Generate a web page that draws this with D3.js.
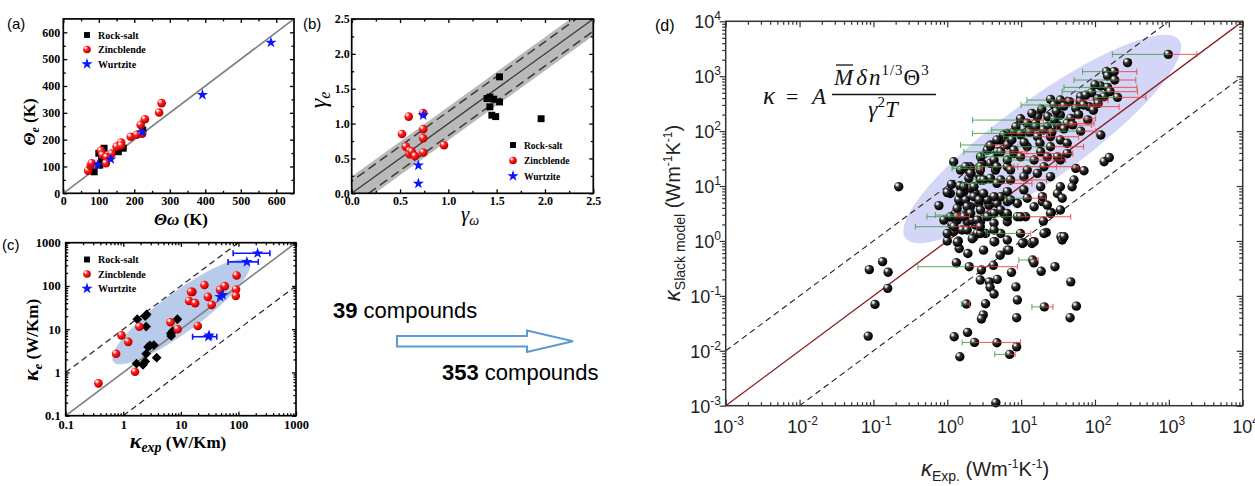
<!DOCTYPE html>
<html><head><meta charset="utf-8">
<script src="https://cdn.jsdelivr.net/npm/d3@7"></script>
<style>body{margin:0;background:#fff}svg{display:block}</style>
</head><body>
<svg id="c" width="1255" height="486"></svg>
<script>
// ---------------- DATA ----------------
// panel (a): Theta_omega vs Theta_e (K)
const aRock = [[87,80],[100,149],[103,105],[108,125],[115,168],[155,155],[169,168],[224,236]];
const aZinc = [[70,84],[77,103],[80,112],[106,159],[110,143],[122,135],[120,112],[136,148],[150,174],[163,189],[163,178],[190,211],[207,218],[218,255],[222,222],[230,276],[270,301],[277,336]];
const aWurtz = [[97,106],[134,127],[222,228],[392,367],[585,562]];
const aTicks = [0,100,200,300,400,500,600];
// panel (b): gamma_omega vs gamma_e
const bRock = [[1.40,1.36],[1.43,1.38],[1.43,1.24],[1.45,1.12],[1.47,1.35],[1.49,1.10],[1.53,1.31],[1.53,1.67],[1.96,1.07]];
const bZinc = [[0.59,1.10],[0.52,0.85],[0.56,0.67],[0.60,0.61],[0.60,0.56],[0.62,0.60],[0.655,0.535],[0.74,1.15],[0.74,0.92],[0.74,0.79],[0.74,0.585],[0.955,0.69]];
const bWurtz = [[0.74,1.12],[0.69,0.40],[0.69,0.14]];
const bTicks = [0,0.5,1.0,1.5,2.0,2.5];
// panel (c): kappa_exp vs kappa_e (W/Km)
const cRock = [[1.75,17],[2.4,20],[2.5,11.5],[2.55,22],[8.7,17],[6.7,8],[6.8,7],[2.7,3.9],[3.4,4.3],[2.5,2.7],[3.8,2.2],[1.7,1.6],[2.2,1.5],[2.4,1.8],[2.9,4.2],[7.2,9]];
const cZinc = [[0.37,0.56],[1.6,1.04],[0.75,2.7],[0.93,7.2],[1.22,5.1],[1.9,11.4],[6.6,14.5],[8.8,10],[19.7,11.9],[13.9,45],[17.7,40],[15.9,73],[15,73],[25.7,105],[29.5,56],[34.3,36.5],[48,81],[58,99],[91,83],[90,59],[93,175]];
const cWurtz = [[215,570],[140,360],[48,56],[53,62],[30,6.7],[31,7.2]];
const cWurtzErr = [[215,570,81,352],[140,360,66,221],[30,6.7,16,42]];
const cTicks = [0.1,1,10,100,1000];
// panel (d): kappa_Exp vs kappa_Slack model (W m^-1 K^-1)
const dPts = [
[0.088,0.30],[0.133,0.42],[0.158,0.27],[0.156,0.137],[0.105,0.070],[0.085,0.0185],[0.22,9.7],
[1.33,0.40],[1.98,0.34],[1.9,0.59],[1.45,0.73],[1.41,1.0],[1.0,1.0],[0.77,4.4],
[2.9,0.295],[4.2,0.36],[2.8,0.194],[3.7,0.18],[4.75,0.20],[3.8,0.143],[4.3,0.108],
[7.4,0.268],[8.5,0.146],[8.9,0.084],[8.7,0.040],[3.3,0.072],[3.07,0.045],[2.9,0.038],
[1.82,0.071],[1.24,0.018],[1.88,0.0216],[2.34,0.0142],[1.48,0.0078],[4.7,0.014],[7.0,0.0086],[8.7,0.0118],[4.55,0.00113],
[14.3,0.45],[14.9,0.40],[18.7,0.28],[28.7,0.34],[20.6,0.063],
[5.2,0.55],[6.5,0.68],[4.4,0.97],[10.7,0.93],[14.5,0.97],[21.9,1.43],[20,2.3],[25.7,3.3],[34.6,1.19],
[47,0.18],[56,0.065],[46,0.040],[3.1,0.68],[6.8,0.68],[10.4,0.9],[14,0.9],[36,1.04],
[1.16,1.95],[1.22,1.47],[1.36,2.4],[1.29,3.18],
[1.51,5.2],[2.06,4.2],[2.68,4.8],[3.66,4.5],[4.7,4.8],[6.5,5.2],[8.9,4.8],[15,4.2],[19.4,5.2],
[1.68,2.96],[1.86,2.24],[2.41,1.95],[2.82,2.24],[3.3,1.37],[4.3,3.18],[5.8,3.18],[6.5,2.24],[8.9,2.76],[11.5,2.76],
[1.59,1.58],[2.29,1.19],[2.68,1.37],[34,3.66],
[1.22,27.7],[1.14,10.7],[1.1,7.3],[1.36,3.9],[1.1,2.76],[1.23,1.82],[0.9,2.4],[1.43,5.6],[1.0,1.37],[1.0,7.6],[1.48,10.1],[2.07,21],[2.68,15.8],[3.66,52],[2.97,25.9],[2.4,7.3],[1.68,7.9],[1.77,5.6],[1.36,2.77],[1.86,1.58],[2.54,1.37],[2.18,2.4],[1.37,0.95],[2.18,1.1],
[1.94,19.5],[2.02,22.5],[2.82,34],[3.48,45],[3.85,56],[5.3,69],[6.5,91],[8.0,98],[9.9,159],[2.82,22.5],[3.85,25.9],[4.5,19.5],[6.5,22.5],[1.96,13.8],[2.82,12.9],[3.85,13.8],[5.3,12.9],[2.07,9.1],[1.51,7.3],[2.29,6.4],[3.48,5.6],[5.3,6.4],[1.86,4.2],[2.82,3.66],[1.68,2.76],[2.55,2.4],[4.3,2.1],[6.5,2.76],[2.82,1.37],[5.3,1.37],[1.51,19.5],[4.75,42],[8.0,39],[6.8,60],[9.9,85],[12.8,105],[15.7,138],[16.6,196],
[982,2500],[276,1770],[182,1210],[143,1210],[148,1010],[185,853],[120,664],[148,627],[160,523],[202,412],[133,424],[108,390],[83,279],[64,424],[63,344],[45,344],[34,368],[25,379],[28,299],[38,286],[9.8,168],[16.6,183],[23,183],[34,196],[47,171],[15.7,120],[22.6,120],[31,129],[42,138],[64,100],[120,85],[5.8,85],[9.8,91],[6.5,56],[3.85,54],[16.6,79],[25,79],[34,69],[42,60],[133,27.7],[156,33],[55,21],[71,19],[52,12.9],[34,29.8],
[1.77,22.5],[2.07,17],[2.8,19.5],[4.7,69],[5.3,42],[8,45],[12.1,52],[18.4,42],[25,52],[4.3,29.8],[6.5,29.8],[9.8,34],[15,29.8],[22.6,34],[31,34],[42,39],[20.4,22.5],[12.1,19.6],[7.2,19.6],[4.7,22.5],[3.1,12.9],[4.7,11.2],[7.2,12.9],[10.9,14.8],[16.6,17],[25,14.8],[18.4,9.7],[34,9.7],[10.9,8.5],[6.5,7.9],[4.3,6.4],[2.7,5.6],[1.68,9.7],[2.3,9.7],[3.1,7.3],[7.2,5.6],[5.3,3.66],[3.5,2.76],[2.07,3.18],[2.8,1.82],[4.3,1.58],[6.5,3.18],[9.8,2.76],[19.4,6.4],[31,7.3],[25,3.18],[20.4,1.37],[38,1.19],[9.8,1.37],[15,0.97],[6.5,1.04],[4.3,0.97],
[49,9.7],[36,6.0],[12.1,6.0],[22.6,4.5],
[12,140],[19,250],[14,210],[28,160],[20,105],[11,62],[7.5,70],[8.5,120],[13,95],[18,60],[26,95],[38,110],[50,130],[30,230],[55,260],[70,300],[90,500],[100,700],[75,450],[110,320],[60,200],[80,160],[95,240]
];
// horizontal error bars: [x, y, low, high]
const dErr = [
[982,2500,172,2400],[182,1210,68,369],[185,853,52,357],[148,627,38,370],[160,523,36,377],[202,412,100,489],
[83,279,18,212],[47,171,25,102],[42,138,9.3,97],[64,100,7.2,103],[16.6,79,5.8,60],[5.3,42,1.68,12],
[15,29.8,6,40],[20.4,22.5,8,60],[12.1,6.0,6,21.5],[9.8,2.76,3,47],[9.8,1.37,3.5,13.5],[2.07,21,1.16,3.0],
[1.36,2.77,0.53,2.0],[1.23,1.82,0.37,2.5],[9.9,159,2.2,20],[3.85,56,1.51,6],[1.98,0.34,0.40,8.9],
[1.82,0.071,1.55,2.0],[2.34,0.0142,1.59,9.8],[7.0,0.0086,4.4,8.3],[20.6,0.063,14,27],[14.3,0.45,9.3,17],
[1.29,2.96,0.69,1.45],[3.48,22.5,1.2,9],[6.5,22.5,2.5,30],[8,39,3,50],[28,299,10,120],[34,368,12,150],
[12.8,105,4,30],[6.5,91,2.2,25],[9.8,34,2.6,35],[4.7,11.2,1.6,14],[7.2,12.9,2.4,22],[25,52,9,70],[31,129,11,90]
];
const dDecades = [-3,-2,-1,0,1,2,3,4];

// ---------------- DRAW ----------------
const svg = d3.select('#c');
const defs = svg.append('defs');
function grad(id, stops){
  const g = defs.append('radialGradient').attr('id',id)
    .attr('cx','40%').attr('cy','38%').attr('r','62%').attr('fx','30%').attr('fy','27%');
  stops.forEach(([o,c])=>g.append('stop').attr('offset',o).attr('stop-color',c));
}
grad('gRed',[[0,'#ffffff'],[0.18,'#ffc8c8'],[0.42,'#ff2424'],[0.85,'#d80000'],[1,'#a00000']]);
grad('gBlack',[[0,'#ffffff'],[0.16,'#d8d8d8'],[0.38,'#3a3a3a'],[0.8,'#050505'],[1,'#000']]);

const SERIF = "'Liberation Serif','Times New Roman',serif";
const SANS = "'Liberation Sans',Arial,sans-serif";

function clip(id,x,y){
  defs.append('clipPath').attr('id',id).append('rect')
    .attr('x',x.range()[0]).attr('y',y.range()[1])
    .attr('width',x.range()[1]-x.range()[0]).attr('height',y.range()[0]-y.range()[1]);
}
function ax(g, fn, scale, tr, vals, size, fmt, pad){
  const a = fn(scale).tickValues(vals).tickSizeInner(size).tickSizeOuter(0).tickPadding(pad||3).tickFormat(fmt||'');
  const s = g.append('g').attr('transform',tr).call(a);
  s.select('.domain').remove();
  s.selectAll('line').attr('stroke','#000').attr('stroke-width',1.3);
  return s;
}
function styleLab(s, fs){
  s.selectAll('text').attr('font-family',SERIF).attr('font-weight','bold').attr('font-size',fs||12).attr('fill','#000');
}
function box(g,x,y,lw,col){
  g.append('rect').attr('x',x.range()[0]).attr('y',y.range()[1])
   .attr('width',x.range()[1]-x.range()[0]).attr('height',y.range()[0]-y.range()[1])
   .attr('fill','none').attr('stroke',col||'#000').attr('stroke-width',lw||1.7);
}
function minorLog(lo,hi){ const r=[]; for(let k=lo;k<hi;k++) for(let m=2;m<=9;m++) r.push(m*Math.pow(10,k)); return r; }
function ellipse(g, x, y, p1, p2, hw, fill){
  const X1=x(p1[0]),Y1=y(p1[1]),X2=x(p2[0]),Y2=y(p2[1]);
  const cx=(X1+X2)/2, cy=(Y1+Y2)/2, rx=Math.hypot(X2-X1,Y2-Y1)/2, ang=Math.atan2(Y2-Y1,X2-X1)*180/Math.PI;
  g.append('ellipse').attr('cx',cx).attr('cy',cy).attr('rx',rx).attr('ry',hw)
   .attr('transform',`rotate(${ang},${cx},${cy})`).attr('fill',fill);
}
const sq = d3.symbol(d3.symbolSquare, 48);
const star = d3.symbol(d3.symbolStar, 40);
function drawSeries(g, x, y, rock, zinc, wurtz, diamond){
  g.selectAll(null).data(rock).join('path').attr('d',sq)
   .attr('transform',d=>`translate(${x(d[0])},${y(d[1])})${diamond?' rotate(45)':''}`).attr('fill','#000');
  g.selectAll(null).data(zinc).join('circle').attr('cx',d=>x(d[0])).attr('cy',d=>y(d[1])).attr('r',4.3)
   .attr('fill','url(#gRed)');
  g.selectAll(null).data(wurtz).join('path').attr('d',star)
   .attr('transform',d=>`translate(${x(d[0])},${y(d[1])})`).attr('fill','#0a14ff');
}
function legend(g, x0, y0, dy, fs){
  const items=['Rock-salt','Zincblende','Wurtzite'];
  items.forEach((t,i)=>{
    const yy=y0+i*dy;
    if(i===0) g.append('path').attr('d',sq).attr('transform',`translate(${x0},${yy}) scale(0.85)`).attr('fill','#000');
    if(i===1) g.append('circle').attr('cx',x0).attr('cy',yy).attr('r',3.8).attr('fill','url(#gRed)');
    if(i===2) g.append('path').attr('d',star).attr('transform',`translate(${x0},${yy})`).attr('fill','#0a14ff');
    g.append('text').attr('x',x0+11).attr('y',yy+3.5).text(t)
     .attr('font-family',SERIF).attr('font-weight','bold').attr('font-size',fs);
  });
}
function panelLabel(t,x,y,fs){
  svg.append('text').attr('x',x).attr('y',y).text(t).attr('font-family',SANS).attr('font-size',fs||15);
}

// ===== Panel (a) =====
{
  const g = svg.append('g');
  const x = d3.scaleLinear([0,650],[63.3,294]), y = d3.scaleLinear([0,650],[193.3,18.9]);
  const minor = d3.range(50,650,100);
  styleLab(ax(g,d3.axisBottom,x,`translate(0,${y.range()[0]})`,aTicks,-4,d3.format('d'),3));
  ax(g,d3.axisBottom,x,`translate(0,${y.range()[0]})`,minor,-2.5);
  ax(g,d3.axisTop,x,`translate(0,${y.range()[1]})`,aTicks,-4);
  ax(g,d3.axisTop,x,`translate(0,${y.range()[1]})`,minor,-2.5);
  styleLab(ax(g,d3.axisLeft,y,`translate(${x.range()[0]},0)`,aTicks,-4,d3.format('d'),3));
  ax(g,d3.axisLeft,y,`translate(${x.range()[0]},0)`,minor,-2.5);
  ax(g,d3.axisRight,y,`translate(${x.range()[1]},0)`,aTicks,-4);
  ax(g,d3.axisRight,y,`translate(${x.range()[1]},0)`,minor,-2.5);
  g.append('line').attr('x1',x(0)).attr('y1',y(0)).attr('x2',x(650)).attr('y2',y(650)).attr('stroke','#808080').attr('stroke-width',1.6);
  drawSeries(g,x,y,aRock,aZinc,aWurtz,false);
  box(g,x,y);
  legend(g,87,35,14.5,10);
  g.append('text').attr('transform','translate(35,122) rotate(-90)').attr('text-anchor','middle')
   .attr('font-family',SERIF).attr('font-weight','bold').attr('font-size',17)
   .call(t=>{t.append('tspan').text('Θ').attr('font-style','italic');
             t.append('tspan').text('e').attr('font-style','italic').attr('font-size',12).attr('dy',4);
             t.append('tspan').text(' (K)').attr('dy',-4);});
  g.append('text').attr('x',181).attr('y',225).attr('text-anchor','middle')
   .attr('font-family',SERIF).attr('font-weight','bold').attr('font-size',17)
   .call(t=>{t.append('tspan').text('Θω').attr('font-style','italic');
             t.append('tspan').text(' (K)');});
  panelLabel('(a)',7,29);
}

// ===== Panel (b) =====
{
  const g = svg.append('g');
  const x = d3.scaleLinear([0,2.5],[351.7,593.3]), y = d3.scaleLinear([0,2.5],[193.3,19]);
  clip('clipB',x,y);
  const cg = g.append('g').attr('clip-path','url(#clipB)');
  const band = 0.24, dash = 0.175;
  cg.append('path').attr('d',d3.line()([[x(-1),y(-1+band)],[x(3.5),y(3.5+band)],[x(3.5),y(3.5-band)],[x(-1),y(-1-band)]])+'Z')
    .attr('fill','#b9b9b9');
  [dash,-dash].forEach(o=>cg.append('line').attr('x1',x(-1)).attr('y1',y(-1+o)).attr('x2',x(3.5)).attr('y2',y(3.5+o))
     .attr('stroke','#3a3a3a').attr('stroke-width',1.5).attr('stroke-dasharray','9,5'));
  cg.append('line').attr('x1',x(0)).attr('y1',y(0)).attr('x2',x(2.5)).attr('y2',y(2.5)).attr('stroke','#3a3a3a').attr('stroke-width',1.3);
  const minor = d3.range(0.25,2.5,0.5);
  const f = d3.format('.1f');
  styleLab(ax(g,d3.axisBottom,x,`translate(0,${y.range()[0]})`,bTicks,-4,f,3));
  ax(g,d3.axisBottom,x,`translate(0,${y.range()[0]})`,minor,-2.5);
  ax(g,d3.axisTop,x,`translate(0,${y.range()[1]})`,bTicks,-4);
  ax(g,d3.axisTop,x,`translate(0,${y.range()[1]})`,minor,-2.5);
  styleLab(ax(g,d3.axisLeft,y,`translate(${x.range()[0]},0)`,bTicks,-4,f,2));
  ax(g,d3.axisLeft,y,`translate(${x.range()[0]},0)`,minor,-2.5);
  ax(g,d3.axisRight,y,`translate(${x.range()[1]},0)`,bTicks,-4);
  ax(g,d3.axisRight,y,`translate(${x.range()[1]},0)`,minor,-2.5);
  drawSeries(g,x,y,bRock,bZinc,bWurtz,false);
  box(g,x,y);
  legend(g,513,145,15.5,9.5);
  g.append('text').attr('transform','translate(326,100) rotate(-90)').attr('text-anchor','middle')
   .attr('font-family',SERIF).attr('font-size',24)
   .call(t=>{t.append('tspan').text('γ').attr('font-style','italic');
             t.append('tspan').text('e').attr('font-style','italic').attr('font-size',16).attr('dy',4);});
  g.append('text').attr('x',470).attr('y',221).attr('text-anchor','middle')
   .attr('font-family',SERIF).attr('font-size',21)
   .call(t=>{t.append('tspan').text('γ').attr('font-style','italic');
             t.append('tspan').text('ω').attr('font-style','italic').attr('font-size',14).attr('dy',4);});
  panelLabel('(b)',303,29);
}

// ===== Panel (c) =====
{
  const g = svg.append('g');
  const x = d3.scaleLog([0.1,1000],[65.7,296]), y = d3.scaleLog([0.1,1000],[415.7,242.7]);
  clip('clipC',x,y);
  const cg = g.append('g').attr('clip-path','url(#clipC)');
  ellipse(cg,x,y,[0.67,1.77],[154,364],20,'#b8cbea');
  cg.append('line').attr('x1',x(0.1)).attr('y1',y(0.1)).attr('x2',x(1000)).attr('y2',y(1000)).attr('stroke','#808080').attr('stroke-width',1.6);
  [[0.1,1,100,1000],[1,0.1,1000,100]].forEach(l=>cg.append('line').attr('x1',x(l[0])).attr('y1',y(l[1])).attr('x2',x(l[2])).attr('y2',y(l[3]))
     .attr('stroke','#222').attr('stroke-width',1.2).attr('stroke-dasharray','6,4'));
  const minor = minorLog(-1,3);
  const f = d=>String(d);
  styleLab(ax(g,d3.axisBottom,x,`translate(0,${y.range()[0]})`,cTicks,-4,f,4),12.5);
  ax(g,d3.axisBottom,x,`translate(0,${y.range()[0]})`,minor,-2.5);
  ax(g,d3.axisTop,x,`translate(0,${y.range()[1]})`,cTicks,-4);
  ax(g,d3.axisTop,x,`translate(0,${y.range()[1]})`,minor,-2.5);
  styleLab(ax(g,d3.axisLeft,y,`translate(${x.range()[0]},0)`,cTicks,-4,f,5),12.5);
  ax(g,d3.axisLeft,y,`translate(${x.range()[0]},0)`,minor,-2.5);
  ax(g,d3.axisRight,y,`translate(${x.range()[1]},0)`,cTicks,-4);
  ax(g,d3.axisRight,y,`translate(${x.range()[1]},0)`,minor,-2.5);
  g.selectAll(null).data(cWurtzErr).join('g').each(function(d){
    const s=d3.select(this), yy=y(d[1]);
    s.append('line').attr('x1',x(d[2])).attr('x2',x(d[3])).attr('y1',yy).attr('y2',yy).attr('stroke','#0a14ff').attr('stroke-width',1.6);
    [d[2],d[3]].forEach(v=>s.append('line').attr('x1',x(v)).attr('x2',x(v)).attr('y1',yy-3).attr('y2',yy+3).attr('stroke','#0a14ff').attr('stroke-width',1.6));
  });
  drawSeries(g,x,y,cRock,cZinc,cWurtz,true);
  box(g,x,y);
  legend(g,87,259.5,14.5,10);
  g.append('text').attr('transform','translate(38,340) rotate(-90)').attr('text-anchor','middle')
   .attr('font-family',SERIF).attr('font-weight','bold').attr('font-size',17)
   .call(t=>{t.append('tspan').text('κ').attr('font-style','italic').attr('font-size',22);
             t.append('tspan').text('e').attr('font-style','italic').attr('font-size',13).attr('dy',4);
             t.append('tspan').text(' (W/Km)').attr('dy',-4);});
  g.append('text').attr('x',178).attr('y',448).attr('text-anchor','middle')
   .attr('font-family',SERIF).attr('font-weight','bold').attr('font-size',17)
   .call(t=>{t.append('tspan').text('κ').attr('font-style','italic').attr('font-size',22);
             t.append('tspan').text('exp').attr('font-style','italic').attr('font-size',14).attr('dy',4);
             t.append('tspan').text(' (W/Km)').attr('dy',-4);});
  panelLabel('(c)',2,250);
}

// ===== Middle arrow & texts =====
{
  const g = svg.append('g');
  g.append('path').attr('d','M397,336 L527,336 L527,330.5 L573,341.2 L527,352 L527,346.5 L397,346.5 Z')
   .attr('fill','#fff').attr('stroke','#5b9bd5').attr('stroke-width',2);
  g.append('text').attr('x',333).attr('y',318).attr('font-family',SANS).attr('font-size',22)
   .call(t=>{t.append('tspan').text('39').attr('font-weight','bold'); t.append('tspan').text(' compounds');});
  g.append('text').attr('x',442).attr('y',380).attr('font-family',SANS).attr('font-size',22)
   .call(t=>{t.append('tspan').text('353').attr('font-weight','bold'); t.append('tspan').text(' compounds');});
}

// ===== Panel (d) =====
{
  const g = svg.append('g');
  const x = d3.scaleLog([1e-3,1e4],[725.7,1242.7]), y = d3.scaleLog([1e-3,1e4],[405.7,21.3]);
  clip('clipD',x,y);
  const cg = g.append('g').attr('clip-path','url(#clipD)');
  ellipse(cg,x,y,[0.27,1.13],[1380,4570],40,'#d3d6f6');
  cg.append('line').attr('x1',x(1e-3)).attr('y1',y(1e-3)).attr('x2',x(1e4)).attr('y2',y(1e4)).attr('stroke','#8b1c1c').attr('stroke-width',1.3);
  [[1e-3,1e-2,1e3,1e4],[1e-2,1e-3,1e4,1e3]].forEach(l=>cg.append('line').attr('x1',x(l[0])).attr('y1',y(l[1])).attr('x2',x(l[2])).attr('y2',y(l[3]))
     .attr('stroke','#222').attr('stroke-width',1.1).attr('stroke-dasharray','6,4'));
  const maj = dDecades.map(k=>Math.pow(10,k));
  const minor = minorLog(-3,4);
  ax(g,d3.axisBottom,x,`translate(0,${y.range()[0]})`,maj,-6);
  ax(g,d3.axisBottom,x,`translate(0,${y.range()[0]})`,minor,-3.5);
  ax(g,d3.axisTop,x,`translate(0,${y.range()[1]})`,maj,-6);
  ax(g,d3.axisTop,x,`translate(0,${y.range()[1]})`,minor,-3.5);
  ax(g,d3.axisLeft,y,`translate(${x.range()[0]},0)`,maj,6);
  ax(g,d3.axisLeft,y,`translate(${x.range()[0]},0)`,minor,3.5);
  ax(g,d3.axisRight,y,`translate(${x.range()[1]},0)`,maj,-6);
  ax(g,d3.axisRight,y,`translate(${x.range()[1]},0)`,minor,-3.5);
  g.selectAll('line').filter(function(){return this.getAttribute('stroke')==='#000';}).attr('stroke','#333').attr('stroke-width',1.2);
  // points
  g.append('g').selectAll('circle').data(dPts).join('circle')
   .attr('cx',d=>x(d[0])).attr('cy',d=>y(d[1])).attr('r',4.7).attr('fill','url(#gBlack)');
  // error bars
  const eg = g.append('g').attr('stroke-width',1).attr('opacity',0.85);
  dErr.forEach(d=>{
    const yy=y(d[1]), xc=x(d[0]), xl=x(d[2]), xh=x(d[3]);
    eg.append('line').attr('x1',xl).attr('x2',xc).attr('y1',yy).attr('y2',yy).attr('stroke','#3f9c46');
    eg.append('line').attr('x1',xl).attr('x2',xl).attr('y1',yy-3).attr('y2',yy+3).attr('stroke','#3f9c46');
    eg.append('line').attr('x1',xc).attr('x2',xh).attr('y1',yy).attr('y2',yy).attr('stroke','#ee3b3b');
    eg.append('line').attr('x1',xh).attr('x2',xh).attr('y1',yy-3).attr('y2',yy+3).attr('stroke','#ee3b3b');
  });
  box(g,x,y,1.5,'#333');
  // tick labels
  dDecades.forEach(k=>{
    g.append('text').attr('x',x(Math.pow(10,k))+3).attr('y',433).attr('text-anchor','middle')
     .attr('font-family',SANS).attr('font-size',18).attr('fill','#222')
     .call(t=>{t.append('tspan').text('10'); t.append('tspan').text(String(k)).attr('font-size',12).attr('dy',-8);});
    g.append('text').attr('x',721).attr('y',y(Math.pow(10,k))+7).attr('text-anchor','end')
     .attr('font-family',SANS).attr('font-size',18).attr('fill','#222')
     .call(t=>{t.append('tspan').text('10'); t.append('tspan').text(String(k)).attr('font-size',12).attr('dy',-8);});
  });
  // axis titles
  g.append('text').attr('transform','translate(680,213) rotate(-90)').attr('text-anchor','middle')
   .attr('font-family',SANS).attr('font-size',20).attr('fill','#222')
   .call(t=>{t.append('tspan').text('κ').attr('font-style','italic').attr('font-size',22);
             t.append('tspan').text('Slack model').attr('font-size',14).attr('dy',5);
             t.append('tspan').text(' (Wm').attr('dy',-5);
             t.append('tspan').text('-1').attr('font-size',12).attr('dy',-8);
             t.append('tspan').text('K').attr('dy',8);
             t.append('tspan').text('-1').attr('font-size',12).attr('dy',-8);
             t.append('tspan').text(')').attr('dy',8);});
  g.append('text').attr('x',985).attr('y',476).attr('text-anchor','middle')
   .attr('font-family',SANS).attr('font-size',20).attr('fill','#222')
   .call(t=>{t.append('tspan').text('κ').attr('font-style','italic').attr('font-size',22);
             t.append('tspan').text('Exp.').attr('font-size',14).attr('dy',5);
             t.append('tspan').text(' (Wm').attr('dy',-5);
             t.append('tspan').text('-1').attr('font-size',12).attr('dy',-8);
             t.append('tspan').text('K').attr('dy',8);
             t.append('tspan').text('-1').attr('font-size',12).attr('dy',-8);
             t.append('tspan').text(')').attr('dy',8);});
  // formula
  const fg = g.append('g').attr('font-family',SERIF).attr('fill','#111');
  fg.append('text').attr('x',763).attr('y',104).attr('font-size',25).attr('font-style','italic').text('κ');
  fg.append('text').attr('x',786).attr('y',104).attr('font-size',22).text('=');
  fg.append('text').attr('x',812).attr('y',104).attr('font-size',23).attr('font-style','italic').text('A');
  fg.append('text').attr('x',834).attr('y',85).attr('font-size',23).attr('letter-spacing',1)
   .call(t=>{t.append('tspan').text('M').attr('font-style','italic');
             t.append('tspan').text('δ').attr('font-style','italic').attr('dx',2);
             t.append('tspan').text('n').attr('font-style','italic').attr('dx',1);
             t.append('tspan').text('1/3').attr('font-size',15).attr('dy',-10);
             t.append('tspan').text('Θ').attr('dy',10);
             t.append('tspan').text('3').attr('font-size',15).attr('dy',-10);});
  fg.append('line').attr('x1',836).attr('x2',853).attr('y1',65).attr('y2',65).attr('stroke','#111').attr('stroke-width',1.3);
  fg.append('line').attr('x1',832).attr('x2',936).attr('y1',94.5).attr('y2',94.5).attr('stroke','#111').attr('stroke-width',1.4);
  fg.append('text').attr('x',883).attr('y',117).attr('text-anchor','middle').attr('font-size',23)
   .call(t=>{t.append('tspan').text('γ').attr('font-style','italic');
             t.append('tspan').text('2').attr('font-size',15).attr('dy',-10);
             t.append('tspan').text('T').attr('font-style','italic').attr('dy',10);});
  panelLabel('(d)',655,31,16);
}
</script>
</body></html>
